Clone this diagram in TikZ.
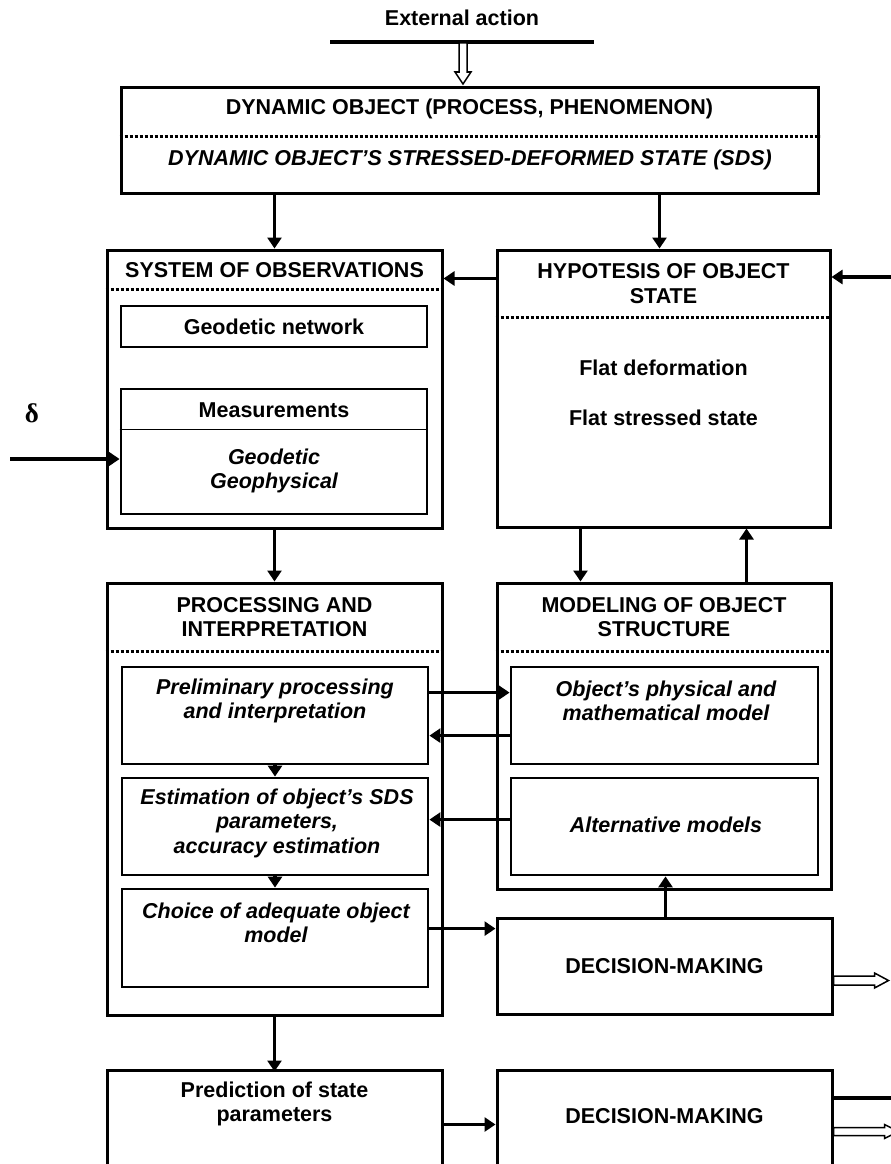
\documentclass[tikz,border=0pt]{standalone}
\usepackage{fontspec}
\setmainfont{Liberation Sans}
\newfontfamily\symfont{Liberation Serif}
\usetikzlibrary{arrows.meta,fit}
\begin{document}
\begin{tikzpicture}[x=1pt,y=-1pt,
  box/.style={draw, line width=3pt, inner sep=0pt},
  inbox/.style={draw, line width=2.8pt, inner sep=0pt},
  txt/.style={font=\fontsize{21.5}{24.5}\selectfont\bfseries, align=center, inner sep=0pt},
  itxt/.style={font=\fontsize{21.5}{24.5}\selectfont\bfseries\itshape, align=center, inner sep=0pt},
  arr/.style={line width=3.4pt, -{Triangle[length=11pt,width=14pt]}},
  dotline/.style={line width=3.5pt, dash pattern=on 3pt off 2pt},
  hollow/.style={line width=1.5pt, fill=white}]
\useasboundingbox (0,0) rectangle (891,1164);
\clip (0,0) rectangle (891,1164);

% top
\node[txt] (ext) at (462,18) {External action};
\coordinate (extL) at (330,42);
\coordinate (extR) at (594,42);
\draw[line width=3.2pt] (extL) -- (extR);
\coordinate (extA) at (463,43);
\draw[hollow] ([xshift=-4pt]extA) -- ++(0,29) -- ++(-4,0) -- ++(8,12) -- ++(8,-12) -- ++(-4,0) -- ++(0,-29) -- cycle;

% dynamic object
\node[box, fit={(121,87) (818,193)}] (dyn) {};
\node[txt] (dynT) at (469.5,109) {DYNAMIC OBJECT (PROCESS, PHENOMENON)};
\draw[dotline] ([yshift=-51pt]dyn.north west) -- ([yshift=-51pt]dyn.north east);
\node[itxt] (dynI) at (470,160) {DYNAMIC OBJECT’S STRESSED-DEFORMED STATE (SDS)};

% system of observations
\node[box, fit={(107,250) (442,528)}] (obs) {};
\node[txt] (obsT) at (274.5,270) {SYSTEM OF OBSERVATIONS};
\draw[dotline] ([yshift=-41pt]obs.north west) -- ([yshift=-41pt]obs.north east);
\node[inbox, fit={(121,306) (427,347)}] (geo) {};
\node[txt] (geoT) at (geo.center) {Geodetic network};
\node[inbox, fit={(121,389) (427,514)}] (meas) {};
\draw[line width=1.2pt] ([yshift=-42pt]meas.north west) -- ([yshift=-42pt]meas.north east);
\node[txt] (measT) at (274,410) {Measurements};
\node[itxt] (measI) at (274,471) {Geodetic\\Geophysical};
\node[font=\fontsize{27}{27}\selectfont\symfont\bfseries, inner sep=0pt] (delta) at (32,413) {δ};
\coordinate (din) at (10,459);
\draw[arr] (din) -- (din -| meas.west);

% hypothesis
\node[box, fit={(497,250) (830,527)}] (hyp) {};
\node[txt] (hypT) at (663.5,283.5) {HYPOTESIS OF OBJECT\\STATE};
\draw[dotline] ([yshift=-69pt]hyp.north west) -- ([yshift=-69pt]hyp.north east);
\node[txt] (hypA) at (663.5,368) {Flat deformation};
\node[txt] (hypB) at (663.5,418) {Flat stressed state};
\coordinate (rin) at (891,277);
\draw[arr] (rin) -- (rin -| hyp.east);
\draw[arr] ([yshift=-30pt]hyp.north west) -- ([yshift=-30pt]hyp.north west -| obs.east);

\draw[arr] (dyn.south -| obs.north) -- (obs.north);
\draw[arr] ([xshift=-4pt]dyn.south -| hyp.north) -- ([xshift=-4pt]hyp.north);

% processing
\node[box, fit={(107,583) (442,1015)}] (proc) {};
\node[txt] (procT) at (274.5,617) {PROCESSING AND\\INTERPRETATION};
\draw[dotline] ([yshift=-70pt]proc.north west) -- ([yshift=-70pt]proc.north east);
\node[inbox, fit={(122,667) (428,764)}] (pre) {};
\node[itxt] (preT) at (275,701) {Preliminary processing\\and interpretation};
\node[inbox, fit={(122,778) (428,875)}] (est) {};
\node[itxt] (estT) at (277,823) {Estimation of object’s SDS\\parameters,\\accuracy estimation};
\node[inbox, fit={(122,889) (428,987)}] (cho) {};
\node[itxt] (choT) at (276,923) {Choice of adequate object\\model};
\draw[arr] (pre.south) -- (est.north);
\draw[arr] (est.south) -- (cho.north);

\draw[arr] (obs.south) -- (proc.north);

% modeling
\node[box, fit={(497,583) (831,889)}] (mod) {};
\node[txt] (modT) at (664,617) {MODELING OF OBJECT\\STRUCTURE};
\draw[dotline] ([yshift=-70pt]mod.north west) -- ([yshift=-70pt]mod.north east);
\node[inbox, fit={(511,667) (818,764)}] (phy) {};
\node[itxt] (phyT) at (666,701) {Object’s physical and\\mathematical model};
\node[inbox, fit={(511,778) (818,875)}] (alt) {};
\node[itxt] (altT) at (666,825) {Alternative models};

\draw[arr] ([xshift=-83pt]hyp.south) -- ([xshift=-83pt]hyp.south |- mod.north);
\draw[arr] ([xshift=83pt]hyp.south |- mod.north) -- ([xshift=83pt]hyp.south);

\draw[arr] ([yshift=-27pt]pre.north east) -- ([yshift=-27pt]pre.north east -| phy.west);
\draw[arr] ([yshift=-70pt]phy.north west) -- ([yshift=-70pt]phy.north west -| pre.east);
\draw[arr] ([yshift=-43pt]alt.north west) -- ([yshift=-43pt]alt.north west -| est.east);

% decision 1
\node[box, fit={(497,918) (832,1014)}] (dec1) {};
\node[txt] (dec1T) at (dec1.center) {DECISION-MAKING};
\draw[arr] ([yshift=-41pt]cho.north east) -- ([yshift=-41pt]cho.north east -| dec1.west);
\draw[arr] ([xshift=1pt]dec1.north) -- ([xshift=1pt]dec1.north |- alt.south);
\draw[hollow] ([yshift=-10pt]dec1.east) -- ++(41,0) -- ++(0,-3) -- ++(14,7.5) -- ++(-14,7.5) -- ++(0,-3) -- ++(-41,0) -- cycle;

% bottom row
\draw[arr] (proc.south) -- ++(0,55) coordinate (pdTop);
\node[box, fit={(107,1070) (442,1200)}] (pred) {};
\node[txt] (predT) at (274.5,1104) {Prediction of state\\parameters};
\node[box, fit={(497,1070) (832,1200)}] (dec2) {};
\node[txt] (dec2T) at (664.5,1116) {DECISION-MAKING};
\draw[arr] ([yshift=-56pt]pred.north east) -- ([yshift=-56pt]pred.north east -| dec2.west);
\coordinate (rout) at (891,1098);
\draw[line width=3.2pt] (rout -| dec2.east) -- (rout);
\draw[hollow] ([yshift=-59pt]dec2.north east) -- ++(51,0) -- ++(0,-3) -- ++(14,7) -- ++(-14,7) -- ++(0,-3) -- ++(-51,0) -- cycle;
\end{tikzpicture}
\end{document}
